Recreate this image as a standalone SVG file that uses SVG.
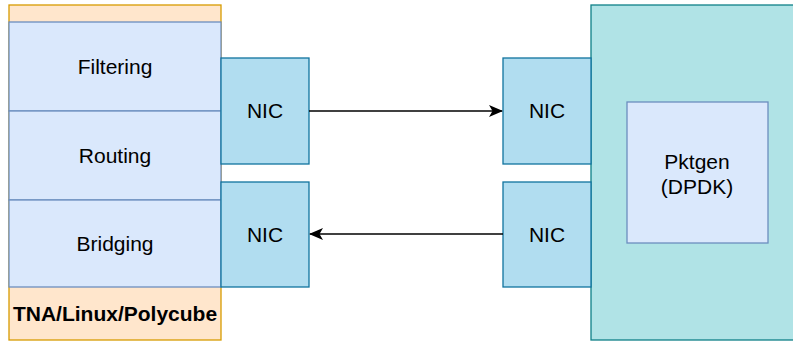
<svg xmlns="http://www.w3.org/2000/svg" width="793" height="341" viewBox="0 0 793 341">
<defs>
<style>
.blue{fill:#dae8fc;stroke:#6c8ebf;stroke-width:1.3}
.orange{fill:#ffe6cc;stroke:#d79b00;stroke-width:1.3}
.nic{fill:#b1ddf0;stroke:#10739e;stroke-width:1.3}
.teal{fill:#b0e3e6;stroke:#0e8088;stroke-width:1.3}
text{font-family:"Liberation Sans",Arial,sans-serif;font-size:21px;fill:#000;text-anchor:middle;dominant-baseline:central}
.bold{font-weight:bold}
.edge{stroke:#000;stroke-width:1.5;fill:none}
</style>
<marker id="arr" viewBox="0 0 14 12" refX="13" refY="6" markerWidth="14" markerHeight="12" markerUnits="userSpaceOnUse" orient="auto">
<path d="M0,0 L14,6 L0,12 L3.5,6 Z" fill="#000"/>
</marker>
</defs>
<rect width="793" height="341" fill="#fff"/>
<g id="host">
<rect class="orange" x="9" y="5" width="212" height="335"/>
<text class="bold" x="115" y="313">TNA/Linux/Polycube</text>
</g>
<g id="filtering"><rect class="blue" x="9" y="22" width="212" height="89"/><text x="115" y="66">Filtering</text></g>
<g id="routing"><rect class="blue" x="9" y="111" width="212" height="89"/><text x="115" y="155">Routing</text></g>
<g id="bridging"><rect class="blue" x="9" y="200" width="212" height="87"/><text x="115" y="243">Bridging</text></g>
<g id="nic-l1"><rect class="nic" x="221" y="58" width="88" height="106"/><text x="265" y="110">NIC</text></g>
<g id="nic-l2"><rect class="nic" x="221" y="182" width="88" height="105"/><text x="265" y="234">NIC</text></g>
<g id="server"><rect class="teal" x="591" y="5" width="215" height="335"/></g>
<g id="pktgen"><rect class="blue" x="627" y="102" width="141" height="141"/><text x="697" y="161">Pktgen</text><text x="697" y="186">(DPDK)</text></g>
<g id="nic-r1"><rect class="nic" x="503" y="58" width="88" height="106"/><text x="547" y="110">NIC</text></g>
<g id="nic-r2"><rect class="nic" x="503" y="182" width="88" height="105"/><text x="547" y="234">NIC</text></g>
<g id="connectors">
<path class="edge" d="M309,111 L502,111" marker-end="url(#arr)"/>
<path class="edge" d="M503,234 L310,234" marker-end="url(#arr)"/>
</g>
</svg>
